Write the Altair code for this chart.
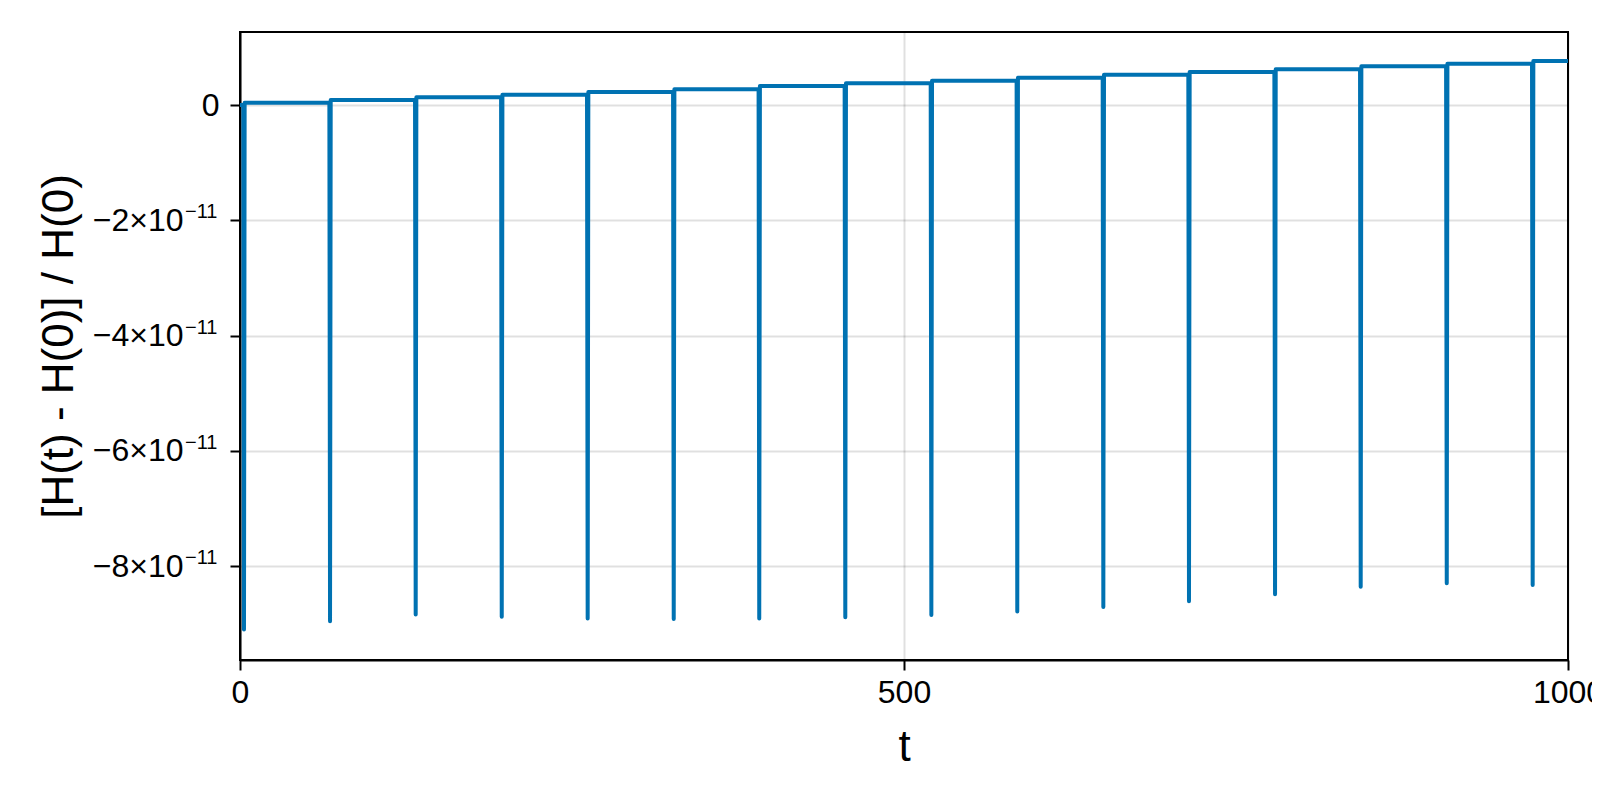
import altair as alt
import pandas as pd

# Spike times (t)
spike_t = [3.0, 67.8, 132.3, 197.1, 261.8, 326.6, 391.0, 455.8, 520.6, 585.3,
           650.1, 714.6, 779.4, 843.9, 908.7, 973.4]
# Spike minima in units of 1e-11
spike_min = [-9.10, -8.96, -8.84, -8.88, -8.91, -8.92, -8.91, -8.89, -8.85, -8.79,
             -8.71, -8.61, -8.49, -8.36, -8.30, -8.33]
# Plateau levels between spikes (units of 1e-11); first is before the first spike
plateau = [0.0, 0.040, 0.087, 0.134, 0.179, 0.226, 0.275, 0.330, 0.376, 0.422,
           0.474, 0.525, 0.573, 0.619, 0.671, 0.717, 0.764]
t_end = 1000.0
half_width = 0.5  # half-width of a spike in t

x_ticks = [0, 500, 1000]
x_tick_labels = ["0", "500", "1000"]
y_ticks = [0, -2, -4, -6, -8]  # units of 1e-11
y_tick_mantissa = ["0", "−2×10", "−4×10", "−6×10", "−8×10"]
y_tick_exponent = ["", "−11", "−11", "−11", "−11"]

SCALE = 1e-11
rows = [(0.0, plateau[0])]
for k, (tk, mk) in enumerate(zip(spike_t, spike_min)):
    rows.append((tk - half_width, plateau[k]))
    rows.append((tk, mk))
    rows.append((tk + half_width, plateau[k + 1]))
rows.append((t_end, plateau[-1]))
df = pd.DataFrame({"t": [r[0] for r in rows], "v": [r[1] * SCALE for r in rows]})

sup_df = pd.DataFrame({
    "v": [v * SCALE for v, e in zip(y_ticks, y_tick_exponent) if e],
    "txt": [e for e in y_tick_exponent if e],
})

ylab_expr = ""
for val, lab in zip(y_ticks, y_tick_mantissa):
    ylab_expr += f"round(datum.value*1e11)=={val} ? '{lab}' : "
ylab_expr += "''"
xlab_expr = ""
for val, lab in zip(x_ticks, x_tick_labels):
    xlab_expr += f"datum.value=={val} ? '{lab}' : "
xlab_expr += "''"

FONT = "Liberation Sans"
W, H = 1328, 628
yscale = alt.Scale(domain=[-9.631e-11, 1.267e-11], nice=False, zero=False)
xscale = alt.Scale(domain=[0, 1000], nice=False, zero=False)

line = alt.Chart(df).mark_line(
    color="#0072B2", strokeWidth=4, strokeJoin="round", clip=True
).encode(
    x=alt.X("t:Q", scale=xscale,
            axis=alt.Axis(values=x_ticks, labelExpr=xlab_expr, title="t",
                          labelPadding=7, labelFlush=False, labelOverlap=False,
                          labelBound=False, titleX=W / 2, titleY=100,
                          titleAlign="center", titleBaseline="alphabetic")),
    y=alt.Y("v:Q", scale=yscale,
            axis=alt.Axis(values=[v * SCALE for v in y_ticks], labelExpr=ylab_expr,
                          title="[H(t) - H(0)] / H(0)",
                          labelPadding={"condition": {"test": "abs(datum.value) < 1e-13",
                                                      "value": 11},
                                        "value": 47},
                          labelOverlap=False, labelBound=False, labelFlush=False,
                          titleX=-181, titleY=H / 2, titleAngle=270,
                          titleAlign="center", titleBaseline="middle")),
)

sup = alt.Chart(sup_df).mark_text(
    font=FONT, fontSize=20, align="left", baseline="alphabetic", dy=-2, color="black"
).encode(
    x=alt.value(-55),
    y=alt.Y("v:Q", scale=yscale),
    text="txt:N",
)

chart = alt.layer(line, sup).properties(
    width=W, height=H,
    autosize=alt.AutoSizeParams(type="none"),
    padding={"left": 232, "top": 24, "right": 24, "bottom": 110},
).configure_view(
    stroke="black", strokeWidth=2
).configure_axis(
    domainColor="black", domainWidth=2,
    tickColor="black", tickWidth=2, tickSize=10,
    gridColor="#000000", gridOpacity=0.12, gridWidth=2,
    labelFont=FONT, labelFontSize=32, labelColor="black",
    titleFont=FONT, titleFontSize=44, titleFontWeight="normal", titleColor="black",
)

chart.save("out.html", embed_options={"renderer": "svg", "actions": False})
